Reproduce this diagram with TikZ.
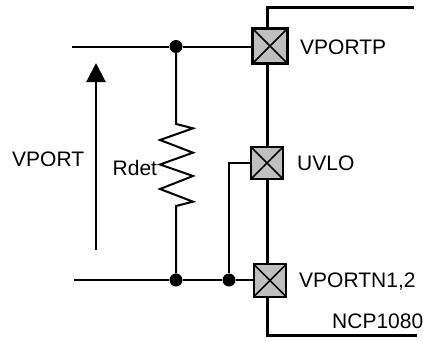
\documentclass[tikz,border=0pt]{standalone}
\usepackage{fontspec}
\setmainfont{Liberation Sans}
\usetikzlibrary{arrows.meta}
\tikzset{
	padbox/.style={draw, line width=2.4pt, fill=black!25, minimum size=#1, inner sep=0pt,
		path picture={\draw[line width=1.6pt] (path picture bounding box.south west) -- (path picture bounding box.north east)
			(path picture bounding box.north west) -- (path picture bounding box.south east);}},
	joint/.style={circle, fill=black, minimum size=13pt, inner sep=0pt},
	wire/.style={line width=2pt},
	spine/.style={line width=3pt},
	pinlabel/.style={inner sep=0pt, anchor=base west, font=\fontsize{21}{24}\selectfont}
}
\begin{document}
\begin{tikzpicture}[x=1pt, y=1pt]
			\useasboundingbox (0, 0) rectangle (423, 341);
			
			\coordinate (topr) at (414, 333);
			\coordinate (topc) at (267, 333);
			\coordinate (botc) at (267, 6);
			\coordinate (botr) at (417, 6);
			\coordinate (wiretop) at (72, 294.5);
			\coordinate (wirebot) at (74, 61);
			\coordinate (arrowbot) at (96, 91);
			\coordinate (arrowtop) at (96, 278);
			
			\node[padbox=35pt] (vportp) at (270, 295) {};
			\node[padbox=32.5pt] (uvlo) at (267, 178) {};
			\node[padbox=32.5pt] (vportn) at (270, 60.5) {};
			
			\node[joint] (jointtop) at (176, 294.5) {};
			\node[joint] (jointbot) at (176, 61) {};
			\node[joint] (jointuvlo) at (229, 61) {};
			
			\draw[spine] (topr) -- (topc) -- (topc |- vportp.north);
			\draw[spine] (topc |- vportp.south) -- (topc |- uvlo.north);
			\draw[spine] (topc |- uvlo.south) -- (topc |- vportn.north);
			\draw[spine] (topc |- vportn.south) -- (botc) -- (botr);
			
			\draw[wire] (wiretop) -- (jointtop) -- (jointtop -| vportp.west);
			\draw[wire] (wirebot) -- (jointbot) -- (jointuvlo) -- (jointuvlo -| vportn.west);
			\draw[wire] (uvlo.west) -- (jointuvlo |- uvlo.west) -- (jointuvlo);
			
			% resistor
			\draw[wire, line join=miter] (jointtop) -- (176, 217) -- (193, 212.7) -- (160, 201)
				-- (193, 188.3) -- (160, 176.5) -- (193, 165) -- (160, 152) -- (193, 139.3)
				-- (176, 135) -- (jointbot);
			
			\draw[wire, -{Triangle[length=19pt, width=19pt]}] (arrowbot) -- (arrowtop);
			
			\node[pinlabel] (lblvport) at (12, 174.5) {VPORT};
			\node[pinlabel] (lblrdet) at (112.5, 165.5) {Rdet};
			\node[pinlabel] (lblvportp) at (300, 286.5) {VPORTP};
			\node[pinlabel] (lbluvlo) at (297, 170.5) {UVLO};
			\node[pinlabel] (lblvportn) at (299, 53.5) {VPORTN1,2};
			\node[pinlabel] (lblncp) at (332, 13) {NCP1080};
		\end{tikzpicture}
\end{document}
